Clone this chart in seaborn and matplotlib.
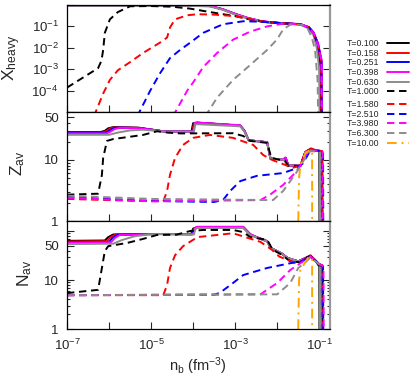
import numpy as np
import pandas as pd
import matplotlib
matplotlib.use("Agg")
import matplotlib.pyplot as plt
from matplotlib.lines import Line2D
from matplotlib.ticker import FixedLocator, FixedFormatter, LogLocator, NullFormatter
import seaborn as sns

# temperatures (MeV) and their line styles
temps = ["0.100", "0.158", "0.251", "0.398", "0.630",
         "1.000", "1.580", "2.510", "3.980", "6.300", "10.00"]
colors = ["black", "#ff0000", "#0000ff", "#ff00ff", "#8c8c8c",
          "black", "#ff0000", "#0000ff", "#ff00ff", "#8c8c8c", "#ffa500"]

# curves: (log10 n_b, value)
# X_heavy panel: value is log10 X_heavy
xh_0100 = [(-7, -0.02), (-4.0, -0.02), (-3.6, -0.05), (-3.3, -0.2), (-3.0, -0.43), (-2.7, -0.62),
           (-2.4, -0.76), (-2.2, -0.81), (-1.9, -0.85), (-1.45, -0.9), (-1.25, -1.05), (-1.14, -1.3),
           (-1.04, -1.8), (-0.99, -2.6), (-0.98, -6)]
xh_0158 = [(-7, -0.02), (-4.0, -0.02), (-3.6, -0.05), (-3.3, -0.2), (-3.0, -0.42), (-2.7, -0.61),
           (-2.4, -0.75), (-2.2, -0.8), (-1.9, -0.85), (-1.45, -0.9), (-1.25, -1.04), (-1.14, -1.28),
           (-1.03, -1.8), (-0.96, -2.6), (-0.95, -6)]
xh_0251 = [(-7, -0.02), (-4.0, -0.02), (-3.6, -0.05), (-3.3, -0.2), (-3.0, -0.42), (-2.7, -0.61),
           (-2.4, -0.75), (-2.2, -0.8), (-1.9, -0.85), (-1.45, -0.9), (-1.25, -1.04), (-1.14, -1.28),
           (-1.03, -1.8), (-0.95, -2.6), (-0.94, -6)]
xh_0398 = [(-7, -0.01), (-4.0, -0.01), (-3.6, -0.04), (-3.3, -0.19), (-3.0, -0.41), (-2.7, -0.6),
           (-2.4, -0.74), (-2.2, -0.79), (-1.9, -0.84), (-1.45, -0.89), (-1.25, -1.03), (-1.14, -1.27),
           (-1.03, -1.8), (-0.94, -2.6), (-0.93, -6)]
xh_0630 = [(-7, -0.04), (-4.0, -0.04), (-3.6, -0.07), (-3.3, -0.22), (-3.0, -0.45), (-2.7, -0.63),
           (-2.4, -0.77), (-2.2, -0.82), (-1.9, -0.86), (-1.45, -0.92), (-1.25, -1.1), (-1.14, -1.4),
           (-1.06, -2.0), (-1.0, -3.0), (-0.99, -6)]
xh_1000 = [(-7, -3.86), (-6.26, -2.95), (-6.18, -2.6), (-6.14, -2.1), (-6.10, -1.3), (-5.98, -0.67),
           (-5.79, -0.33), (-5.5, -0.06), (-5.0, -0.05), (-4.5, -0.08), (-4.07, -0.17), (-3.6, -0.33),
           (-3.0, -0.52), (-2.6, -0.7), (-2.3, -0.79), (-1.9, -0.85), (-1.45, -0.9), (-1.25, -1.05),
           (-1.14, -1.3), (-1.04, -1.8), (-0.96, -2.6), (-0.95, -6)]
xh_1580 = [(-6.36, -5.2), (-6.14, -4.14), (-5.98, -3.5), (-5.79, -3.05), (-5.5, -2.67), (-5.19, -2.24),
           (-4.79, -1.76), (-4.62, -1.52), (-4.55, -1.05), (-4.43, -0.67), (-4.14, -0.48), (-3.9, -0.43),
           (-3.5, -0.45), (-3.0, -0.52), (-2.5, -0.72), (-2.3, -0.79), (-1.9, -0.85), (-1.45, -0.9),
           (-1.25, -1.05), (-1.14, -1.3), (-1.04, -1.8), (-0.96, -2.6), (-0.95, -6)]
xh_2510 = [(-5.33, -5.2), (-5.02, -4.0), (-4.79, -3.2), (-4.55, -2.48), (-4.31, -2.1), (-4.07, -1.76),
           (-3.76, -1.3), (-3.29, -0.9), (-2.81, -0.76), (-2.4, -0.78), (-1.9, -0.85), (-1.45, -0.9),
           (-1.25, -1.05), (-1.14, -1.3), (-1.04, -1.8), (-0.95, -2.6), (-0.94, -6)]
xh_3980 = [(-4.48, -5.2), (-4.14, -4.0), (-4.0, -3.62), (-3.76, -2.9), (-3.43, -2.24), (-3.05, -1.62),
           (-2.64, -1.24), (-2.24, -1.0), (-1.86, -0.87), (-1.45, -0.9), (-1.25, -1.05), (-1.14, -1.3),
           (-1.04, -1.8), (-0.95, -2.6), (-0.94, -6)]
xh_6300 = [(-3.71, -5.2), (-3.43, -4.33), (-3.05, -3.5), (-2.64, -2.8), (-2.24, -2.1), (-2.0, -1.6),
           (-1.86, -1.14), (-1.69, -0.92), (-1.45, -0.92), (-1.3, -1.0), (-1.18, -1.5), (-1.1, -2.1),
           (-1.04, -3.5), (-1.02, -6)]
xh_10000 = []

# Z_av panel
z_0100 = [(-7, 28.7), (-6.2, 28.7), (-6.1, 30), (-6.02, 33), (-5.9, 34.5), (-5.3, 33.8), (-4.86, 30.5),
          (-4.7, 29.3), (-4.04, 29.3), (-4.0, 40), (-3.9, 40.8), (-2.88, 36.5), (-2.78, 30), (-2.68, 21),
          (-2.24, 19.5), (-2.16, 10.5), (-1.86, 10.2), (-1.8, 10.8), (-1.74, 8.2), (-1.45, 8.0),
          (-1.33, 13.5), (-1.21, 14.8), (-1.05, 14.2), (-1.0, 14), (-0.995, 1)]
z_0158 = [(-7, 28.2), (-6.15, 28.2), (-6.05, 30), (-5.97, 33), (-5.85, 34.2), (-5.3, 33.6), (-4.86, 30.5),
          (-4.7, 29.3), (-4.02, 29.3), (-3.98, 40), (-3.9, 40.8), (-2.88, 36.5), (-2.78, 30), (-2.68, 21),
          (-2.24, 19.5), (-2.16, 10.5), (-1.86, 10.2), (-1.8, 10.8), (-1.74, 8.2), (-1.45, 8.0),
          (-1.33, 13.5), (-1.2, 15.5), (-1.05, 14.2), (-0.94, 14), (-0.935, 1)]
z_0251 = [(-7, 27.7), (-6.1, 27.7), (-6.0, 30), (-5.92, 32.5), (-5.8, 34), (-5.3, 33.4), (-4.86, 30.5),
          (-4.7, 29.3), (-4.0, 29.3), (-3.97, 40), (-3.9, 40.6), (-2.88, 36.5), (-2.78, 30), (-2.68, 21),
          (-2.24, 19.5), (-2.16, 10.5), (-1.86, 10.2), (-1.8, 10.8), (-1.74, 8.2), (-1.45, 8.0),
          (-1.33, 13.5), (-1.21, 14.8), (-1.05, 14.2), (-0.95, 14), (-0.945, 1)]
z_0398 = [(-7, 27.2), (-6.05, 27.2), (-5.95, 29.5), (-5.87, 32), (-5.75, 33.6), (-5.3, 33.2), (-4.86, 30.5),
          (-4.7, 29.3), (-3.99, 29.3), (-3.96, 40.5), (-3.9, 41), (-2.88, 37), (-2.78, 30), (-2.68, 21),
          (-2.24, 19.5), (-2.16, 10.5), (-1.86, 10.2), (-1.8, 11), (-1.74, 8.2), (-1.45, 8.0),
          (-1.33, 13.5), (-1.21, 14.8), (-1.05, 14.2), (-0.94, 14), (-0.935, 1)]
z_0630 = [(-7, 25.8), (-6.0, 25.8), (-5.8, 28), (-5.5, 30.5), (-5.2, 31.2), (-4.86, 30), (-4.7, 29.2),
          (-3.98, 29.2), (-3.95, 38), (-3.9, 38.5), (-2.88, 35.5), (-2.78, 29), (-2.68, 21), (-2.24, 19.5),
          (-2.16, 10.5), (-1.86, 10.2), (-1.74, 8.2), (-1.45, 8.0), (-1.33, 13.3), (-1.21, 14.5),
          (-1.05, 14), (-0.99, 13.8), (-0.985, 1)]
z_1000 = [(-7, 2.7), (-6.26, 2.8), (-6.17, 5.7), (-6.14, 10.8), (-6.05, 20.5), (-5.9, 22), (-5.5, 24),
          (-5.19, 25.7), (-4.86, 29.5), (-4.6, 28), (-4.3, 27.2), (-3.05, 27.4), (-2.81, 24.7),
          (-2.64, 20.5), (-2.24, 19), (-2.14, 10.8), (-1.81, 9.6), (-1.74, 8), (-1.45, 8), (-1.33, 13.5),
          (-1.21, 14.8), (-1.0, 14), (-0.93, 13.5), (-0.925, 1)]
z_1580 = [(-7, 2.3), (-5.5, 2.15), (-4.71, 2.1), (-4.62, 3.1), (-4.55, 5.7), (-4.43, 10.8), (-4.24, 17.6),
          (-4.0, 23), (-3.6, 25.7), (-3.05, 23), (-2.57, 17.6), (-2.33, 12), (-2.12, 10), (-1.81, 8.3),
          (-1.65, 7.4), (-1.45, 8), (-1.33, 13.5), (-1.21, 15), (-0.97, 14), (-0.93, 13.8), (-0.925, 1)]
z_2510 = [(-7, 2.5), (-5.5, 2.2), (-4.5, 2.1), (-3.5, 2.05), (-3.29, 2.2), (-3.12, 3.1), (-2.88, 4.5),
          (-2.48, 5.5), (-1.86, 6.1), (-1.52, 7.4), (-1.38, 8.9), (-1.21, 14.5), (-0.95, 14),
          (-0.91, 13.5), (-0.905, 1)]
z_3980 = [(-7, 2.4), (-5, 2.1), (-2.4, 2.2), (-2.17, 2.7), (-1.86, 3.9), (-1.62, 5.7), (-1.45, 8),
          (-1.33, 12), (-1.21, 14.5), (-0.95, 14), (-0.92, 13.5), (-0.915, 1)]
z_6300 = [(-7, 2.6), (-5, 2.3), (-2.1, 2.2), (-1.86, 3.1), (-1.69, 4.5), (-1.52, 6.6), (-1.38, 9.6),
          (-1.21, 14), (-1.0, 13.5), (-0.98, 13), (-0.975, 1)]
z_10000 = [(-1.5, 1), (-1.48, 5), (-1.45, 8.3), (-1.33, 13), (-1.21, 14.6), (-1.17, 14), (-1.169, 1)]

# N_av panel
n_0100 = [(-7, 63), (-6.1, 64), (-6.02, 75), (-5.9, 85), (-4.86, 87), (-4.05, 86), (-4.0, 112), (-3.9, 120),
          (-2.81, 120), (-2.64, 85), (-2.5, 75), (-2.24, 62), (-2.15, 45), (-1.9, 35), (-1.75, 28),
          (-1.5, 24), (-1.33, 28), (-1.21, 31), (-1.1, 25.6), (-1.02, 20), (-1.0, 19.5), (-0.995, 1)]
n_0158 = [(-7, 61), (-6.05, 62), (-5.97, 74), (-5.85, 85), (-4.86, 87), (-4.03, 86), (-3.98, 112), (-3.9, 121),
          (-2.81, 121), (-2.64, 85), (-2.5, 75), (-2.24, 62), (-2.15, 45), (-1.9, 35), (-1.75, 28),
          (-1.5, 24), (-1.33, 28), (-1.21, 32), (-1.1, 25.6), (-1.0, 21), (-0.94, 20), (-0.935, 1)]
n_0251 = [(-7, 59), (-6.0, 60), (-5.92, 72), (-5.8, 84), (-4.86, 87), (-4.02, 86), (-3.97, 112), (-3.9, 120),
          (-2.81, 120), (-2.64, 85), (-2.5, 75), (-2.24, 62), (-2.15, 45), (-1.9, 35), (-1.75, 28),
          (-1.5, 24), (-1.33, 28), (-1.21, 31), (-1.1, 25.6), (-1.0, 21), (-0.95, 20), (-0.945, 1)]
n_0398 = [(-7, 58), (-5.95, 59), (-5.87, 71), (-5.75, 83), (-4.86, 87), (-4.0, 86), (-3.96, 114), (-3.9, 122),
          (-2.81, 122), (-2.64, 86), (-2.5, 76), (-2.24, 62), (-2.15, 45), (-1.9, 35), (-1.75, 28),
          (-1.5, 24), (-1.33, 28), (-1.21, 31), (-1.1, 25.6), (-1.0, 21), (-0.94, 20), (-0.935, 1)]
n_0630 = [(-7, 54), (-5.9, 55), (-5.7, 65), (-5.4, 78), (-5.1, 84), (-4.86, 86), (-3.98, 85), (-3.95, 108),
          (-3.9, 115), (-2.81, 115), (-2.64, 82), (-2.5, 74), (-2.24, 61), (-2.15, 45), (-1.9, 35),
          (-1.75, 28), (-1.5, 24), (-1.33, 27), (-1.21, 30), (-1.1, 25), (-0.99, 20), (-0.985, 1)]
n_1000 = [(-7, 5.4), (-6.26, 6.3), (-6.17, 17.6), (-6.10, 39), (-6.02, 49), (-5.57, 57), (-5.19, 69),
          (-4.86, 83), (-4.4, 84), (-4.07, 100), (-3.76, 105), (-3.05, 105), (-2.81, 95), (-2.64, 75),
          (-2.24, 66), (-2.17, 52), (-2.12, 42), (-1.9, 33), (-1.69, 24), (-1.45, 23), (-1.33, 28),
          (-1.21, 31), (-1.1, 25.6), (-1.0, 20), (-0.93, 19), (-0.925, 1)]
n_1580 = [(-7, 4.9), (-4.71, 4.9), (-4.62, 7.9), (-4.55, 17.6), (-4.43, 32), (-4.24, 49), (-4.0, 66),
          (-3.9, 75), (-3.05, 90), (-2.4, 60), (-2.12, 41), (-1.95, 30), (-1.6, 23), (-1.45, 23),
          (-1.33, 28), (-1.21, 31), (-1.0, 21), (-0.93, 20), (-0.925, 1)]
n_2510 = [(-7, 4.9), (-3.5, 5.0), (-3.36, 5.5), (-3.05, 8.7), (-2.81, 12.6), (-2.24, 17.6), (-1.69, 22),
          (-1.45, 23.5), (-1.21, 30), (-1.0, 21), (-0.91, 19), (-0.905, 1)]
n_3980 = [(-7, 4.9), (-2.4, 5.1), (-2.0, 8.7), (-1.69, 16), (-1.45, 22), (-1.21, 30), (-1.0, 21),
          (-0.9, 19), (-0.895, 1)]
n_6300 = [(-7, 4.9), (-2.0, 5.1), (-1.69, 8.7), (-1.5, 17.6), (-1.33, 23), (-1.21, 29), (-1.0, 21),
          (-0.97, 20), (-0.965, 1)]
n_10000 = [(-1.5, 1), (-1.48, 10), (-1.45, 16), (-1.26, 29), (-1.2, 29), (-1.17, 27), (-1.169, 1)]

xheavy = [xh_0100, xh_0158, xh_0251, xh_0398, xh_0630, xh_1000,
          xh_1580, xh_2510, xh_3980, xh_6300, xh_10000]
zav = [z_0100, z_0158, z_0251, z_0398, z_0630, z_1000,
       z_1580, z_2510, z_3980, z_6300, z_10000]
nav = [n_0100, n_0158, n_0251, n_0398, n_0630, n_1000,
       n_1580, n_2510, n_3980, n_6300, n_10000]

sns.set_style("ticks")
plt.rcParams["font.family"] = ["Liberation Sans", "DejaVu Sans"]
plt.rcParams["mathtext.fontset"] = "custom"
plt.rcParams["mathtext.rm"] = "Liberation Sans"
plt.rcParams["mathtext.it"] = "Liberation Sans:italic"
plt.rcParams["mathtext.default"] = "regular"

LW = 1.4
DASH = (0, (3.8, 2.4))
DASHDOT = (0, (5, 2.5, 1, 2.5))
styles = ["-"] * 5 + [DASH] * 5 + [DASHDOT]

W, H = 415, 388
fig = plt.figure(figsize=(W / 100, H / 100), dpi=100)
x0, x1 = 67, 330
panels = [(5, 112), (112, 221), (221, 329)]
axes = []
for top, bot in panels:
    ax = fig.add_axes([x0 / W, 1 - bot / H, (x1 - x0) / W, (bot - top) / H])
    axes.append(ax)


def draw(ax, pts, color, ls, logval=False):
    if not pts:
        return
    df = pd.DataFrame(pts, columns=["lognb", "val"])
    df["nb"] = 10.0 ** df["lognb"]
    if logval:
        df["val"] = 10.0 ** df["val"]
    sns.lineplot(data=df, x="nb", y="val", ax=ax, color=color, linewidth=LW,
                 linestyle=ls, sort=False, estimator=None)


for i in range(len(temps)):
    draw(axes[0], xheavy[i], colors[i], styles[i], logval=True)
    draw(axes[1], zav[i], colors[i], styles[i])
    draw(axes[2], nav[i], colors[i], styles[i])

ylims = [(1e-5, 1.0), (1, 61), (1, 160)]
for k, ax in enumerate(axes):
    ax.set_xscale("log")
    ax.set_yscale("log")
    ax.set_xlim(1e-7, 0.18)
    ax.set_ylim(*ylims[k])
    ax.set_xlabel("")
    ax.set_ylabel("")
    for s in ["left", "bottom", "top"]:
        ax.spines[s].set_color("black")
        ax.spines[s].set_linewidth(0.9)
    ax.spines["right"].set_color("#999999")
    ax.spines["right"].set_linewidth(1.6)
    ax.xaxis.set_major_locator(FixedLocator([10.0 ** e for e in range(-7, 0)]))
    ax.xaxis.set_minor_locator(LogLocator(base=10, subs=np.arange(2, 10)))
    ax.xaxis.set_minor_formatter(NullFormatter())
    if k == 2:
        ax.xaxis.set_major_formatter(FixedFormatter(
            ["$10^{-7}$", "", "$10^{-5}$", "", "$10^{-3}$", "", "$10^{-1}$"]))
    else:
        ax.xaxis.set_major_formatter(NullFormatter())
    ax.tick_params(which="both", direction="in", top=False, right=True,
                   labelsize=9.5, width=0.8, pad=6)
    ax.tick_params(which="major", length=5)
    ax.tick_params(which="minor", length=2.5)
    ax.yaxis.set_minor_locator(LogLocator(base=10, subs=np.arange(2, 10)))
    ax.yaxis.set_minor_formatter(NullFormatter())

axes[0].yaxis.set_major_locator(FixedLocator([1e-5, 1e-4, 1e-3, 1e-2, 1e-1, 1.0]))
axes[0].yaxis.set_major_formatter(FixedFormatter(
    ["", "$10^{-4}$", "$10^{-3}$", "$10^{-2}$", "$10^{-1}$", ""]))
axes[1].yaxis.set_major_locator(FixedLocator([1, 10, 50]))
axes[1].yaxis.set_major_formatter(FixedFormatter(["1", "10", "50"]))
axes[2].yaxis.set_major_locator(FixedLocator([1, 10, 50, 100]))
axes[2].yaxis.set_major_formatter(FixedFormatter(["1", "10", "50", ""]))

fig.text(12 / W, 1 - 58 / H, "X$_{heavy}$", rotation=90, ha="center", va="center", fontsize=12.5)
fig.text(18 / W, 1 - 163 / H, "Z$_{av}$", rotation=90, ha="center", va="center", fontsize=12.5)
fig.text(25 / W, 1 - 273 / H, "N$_{av}$", rotation=90, ha="center", va="center", fontsize=12.5)
fig.text(198 / W, 1 - 366 / H, "n$_b$ (fm$^{-3}$)", ha="center", va="center", fontsize=10.5)

handles = [Line2D([], [], color=colors[i], linewidth=LW, linestyle=styles[i]) for i in range(len(temps))]
labels = ["T=" + t for t in temps]
leg_kw = dict(frameon=False, fontsize=6.3, markerfirst=False, handlelength=2.5,
              handletextpad=0.9, labelspacing=0.08, borderpad=0, borderaxespad=0,
              loc="upper left")
fig.legend(handles[:6], labels[:6], bbox_to_anchor=(347 / W, 1 - 39 / H), **leg_kw)
fig.legend(handles[6:], labels[6:], bbox_to_anchor=(347 / W, 1 - 100 / H), **leg_kw)

fig.savefig("out.png", dpi=100)
